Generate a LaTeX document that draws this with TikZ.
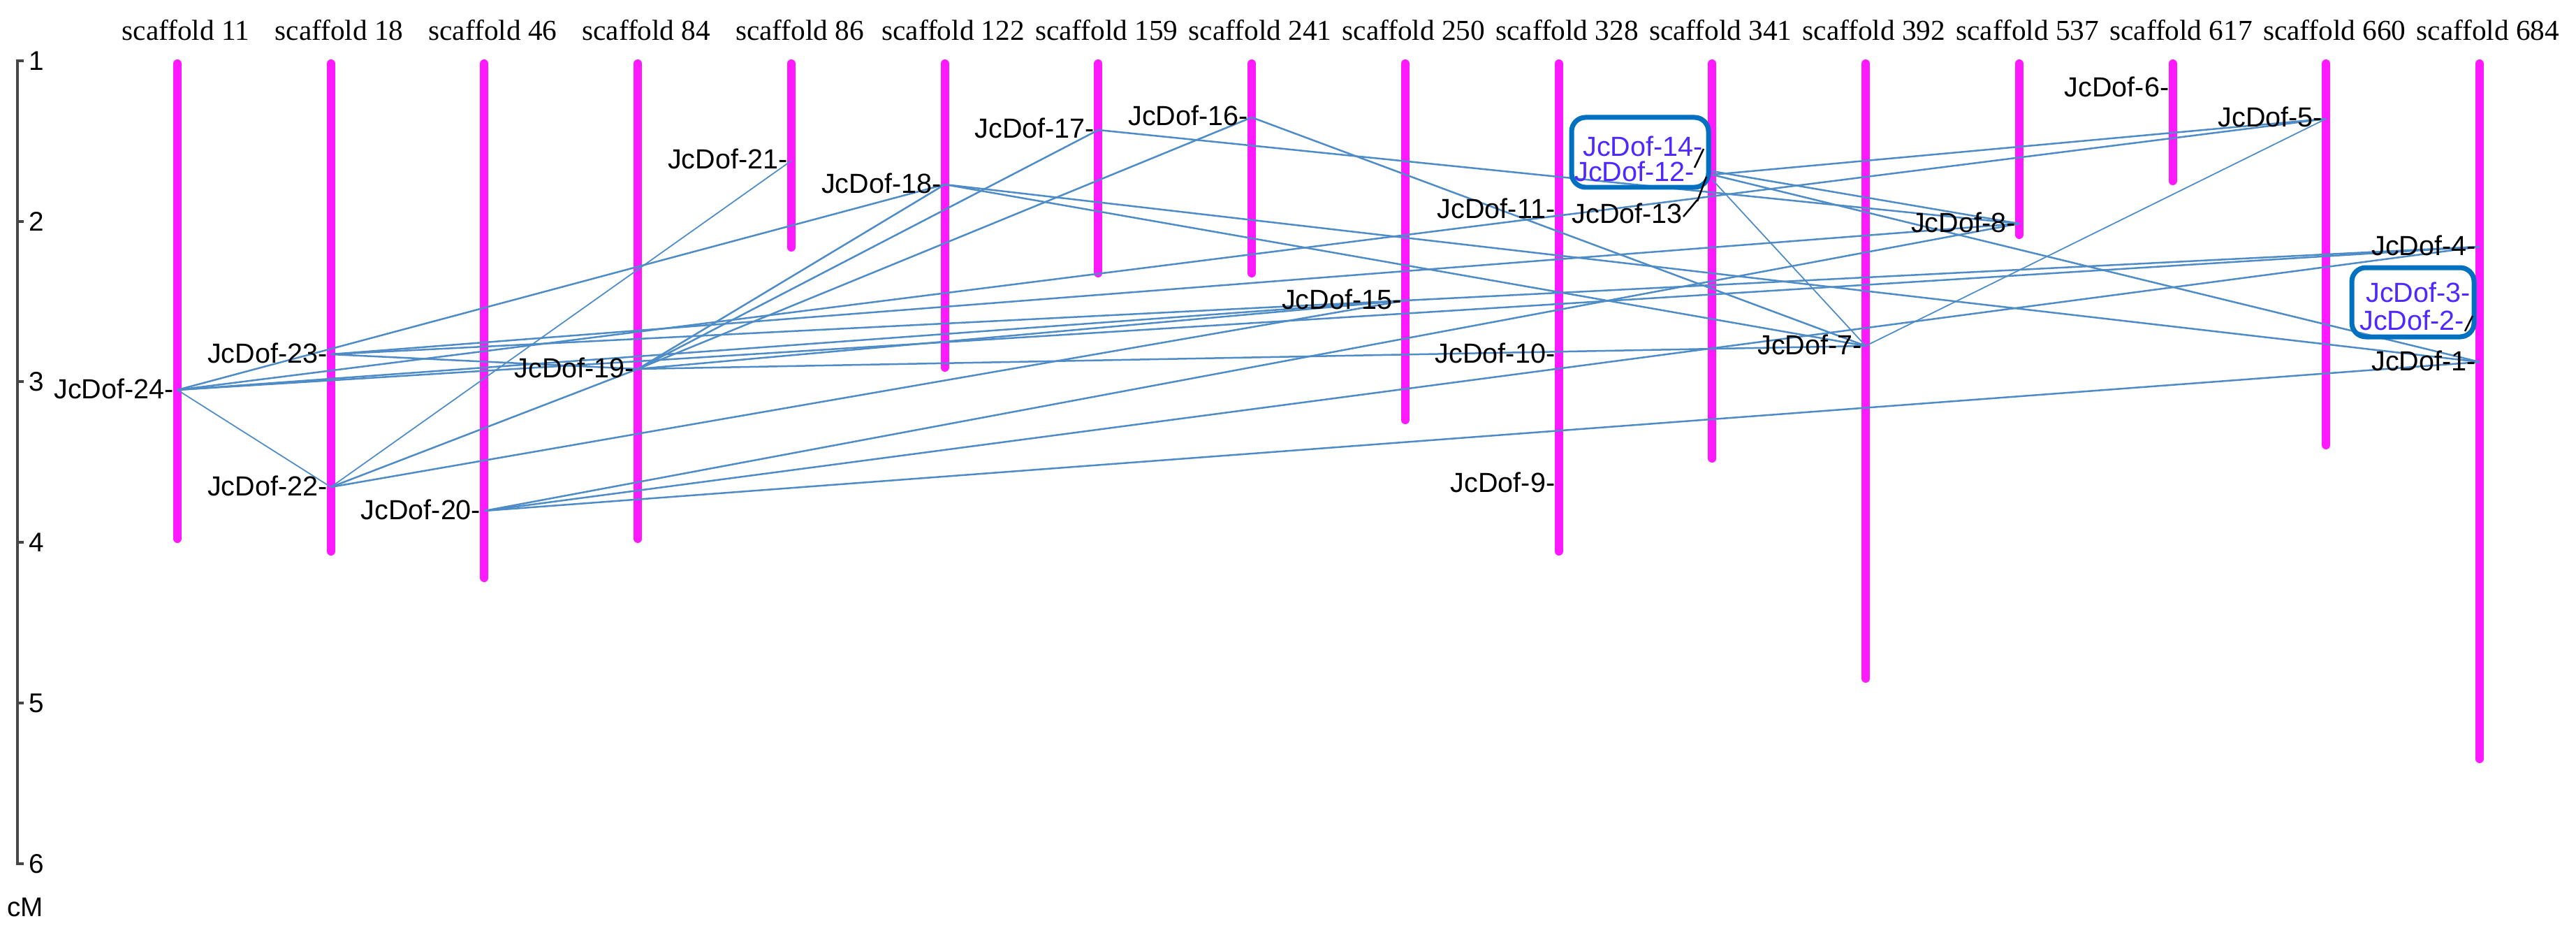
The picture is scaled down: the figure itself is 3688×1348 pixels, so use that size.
\documentclass[tikz,border=0pt]{standalone}
\usepackage{fontspec}
\setmainfont{Liberation Serif}
\newfontfamily\labfont{Liberation Sans}
\usetikzlibrary{calc}
\definecolor{barmag}{RGB}{255,25,255}
\definecolor{lnk}{RGB}{78,140,200}
\definecolor{boxblue}{RGB}{0,112,192}
\definecolor{boxtxt}{RGB}{80,40,255}
\definecolor{axisgray}{RGB}{70,70,70}
\begin{document}
\begin{tikzpicture}[x=0.02cm,y=-0.02cm,
  bar/.style={draw=barmag,line width=0.24cm,line cap=round},
  link/.style={draw=lnk,line width=0.05cm},
  thinlink/.style={draw=lnk,line width=0.035cm},
  gene/.style={font=\labfont\fontsize{22.5}{24}\selectfont,anchor=base east,inner sep=0pt},
  boxgene/.style={gene,text=boxtxt},
  scaf/.style={font=\fontsize{23.5}{25}\selectfont,anchor=base,inner sep=0pt},
  tick/.style={font=\labfont\fontsize{22}{24}\selectfont,inner sep=0pt},
  hl/.style={draw=boxblue,line width=0.14cm,rounded corners=0.4cm},
  axisline/.style={draw=axisgray,line width=0.09cm},
  leader/.style={draw=black,line width=0.05cm}]
\useasboundingbox (0,0) rectangle (3688,1348);
% scaffolds
\foreach \i/\nm/\bot in {0/11/777,1/18/795,2/46/833,3/84/777,4/86/360,5/122/532,6/159/397,7/241/397,8/250/607,9/328/795,10/341/662,11/392/977,12/537/342,13/617/265,14/660/643,15/684/1092}{
  \pgfmathsetmacro\xx{254+219.73*\i}
  \draw[bar] (\xx,91) -- (\xx,\bot-6);
  \node[scaf] (s\nm) at (\xx+12,58) {scaffold \nm};
}
% axis
\draw[axisline] (34,87) -- (25,87) -- (25,1236) -- (34,1236);
\foreach \t/\yy in {2/317,3/546,4/776,5/1006}{\draw[axisline] (25,\yy) -- (34,\yy);}
\foreach \t/\yy in {1/87,2/317,3/546,4/776,5/1006,6/1236}{\node[tick] (t\t) at (52,\yy) {\t};}
\node[tick] (cm) at (36,1298) {cM};
% markers
\coordinate (m24) at (254,558);
\coordinate (m23) at (473.7,507);
\coordinate (m22) at (473.7,697);
\coordinate (m20) at (693.5,731);
\coordinate (m19) at (913.2,528);
\coordinate (m21) at (1132.9,230);
\coordinate (m18) at (1352.7,264);
\coordinate (m17) at (1572.4,186);
\coordinate (m16) at (1792.1,168);
\coordinate (m15) at (2011.8,430);
\coordinate (m11) at (2231.6,301);
\coordinate (m10) at (2231.6,507);
\coordinate (m9) at (2231.6,692);
\coordinate (m14) at (2451.3,245);
\coordinate (m12) at (2451.3,250);
\coordinate (m13) at (2451.3,257);
\coordinate (m7) at (2671,495);
\coordinate (m8) at (2890.8,320);
\coordinate (m6) at (3110.5,127);
\coordinate (m5) at (3330.2,170);
\coordinate (m4) at (3550,353);
\coordinate (m1) at (3550,518);
% links
\foreach \a/\b in {24/18,24/15,24/5,24/4,23/19,23/8,23/4,22/15,22/19,20/1,20/4,20/8,19/18,19/17,19/16,19/15,19/7,18/7,18/1,17/8,16/7,12/5,12/1,14/8}{
  \draw[link] (m\a) -- (m\b);
}
\foreach \a/\b in {24/22,22/21,13/7,7/5}{
  \draw[thinlink] (m\a) -- (m\b);
}
% gene labels
\foreach \g in {24,23,22,20,19,21,18,17,16,15,11,10,9,8,7,6,5,4,1}{
  \node[gene] (l\g) at ($(m\g)+(-5,12)$) {JcDof-\g-};
}
% highlighted clusters
\draw[hl] (2250,168) rectangle (2446,268);
\node[boxgene] (l14) at (2438,224) {JcDof-14-};
\node[boxgene] (l12) at (2426,259) {JcDof-12-};
\node[gene] (l13) at (2409,319) {JcDof-13};
\draw[leader] (2439,213) -- (2426,240);
\draw[leader] (2443,253) -- (2430,288);
\draw[leader] (2410,310) -- (2430,286);
\draw[hl] (3367,383) rectangle (3542,482);
\node[boxgene] (l3) at (3537,432) {JcDof-3-};
\node[boxgene] (l2) at (3528,472) {JcDof-2-};
\draw[leader] (3529,474) -- (3540,452);
\end{tikzpicture}
\end{document}
